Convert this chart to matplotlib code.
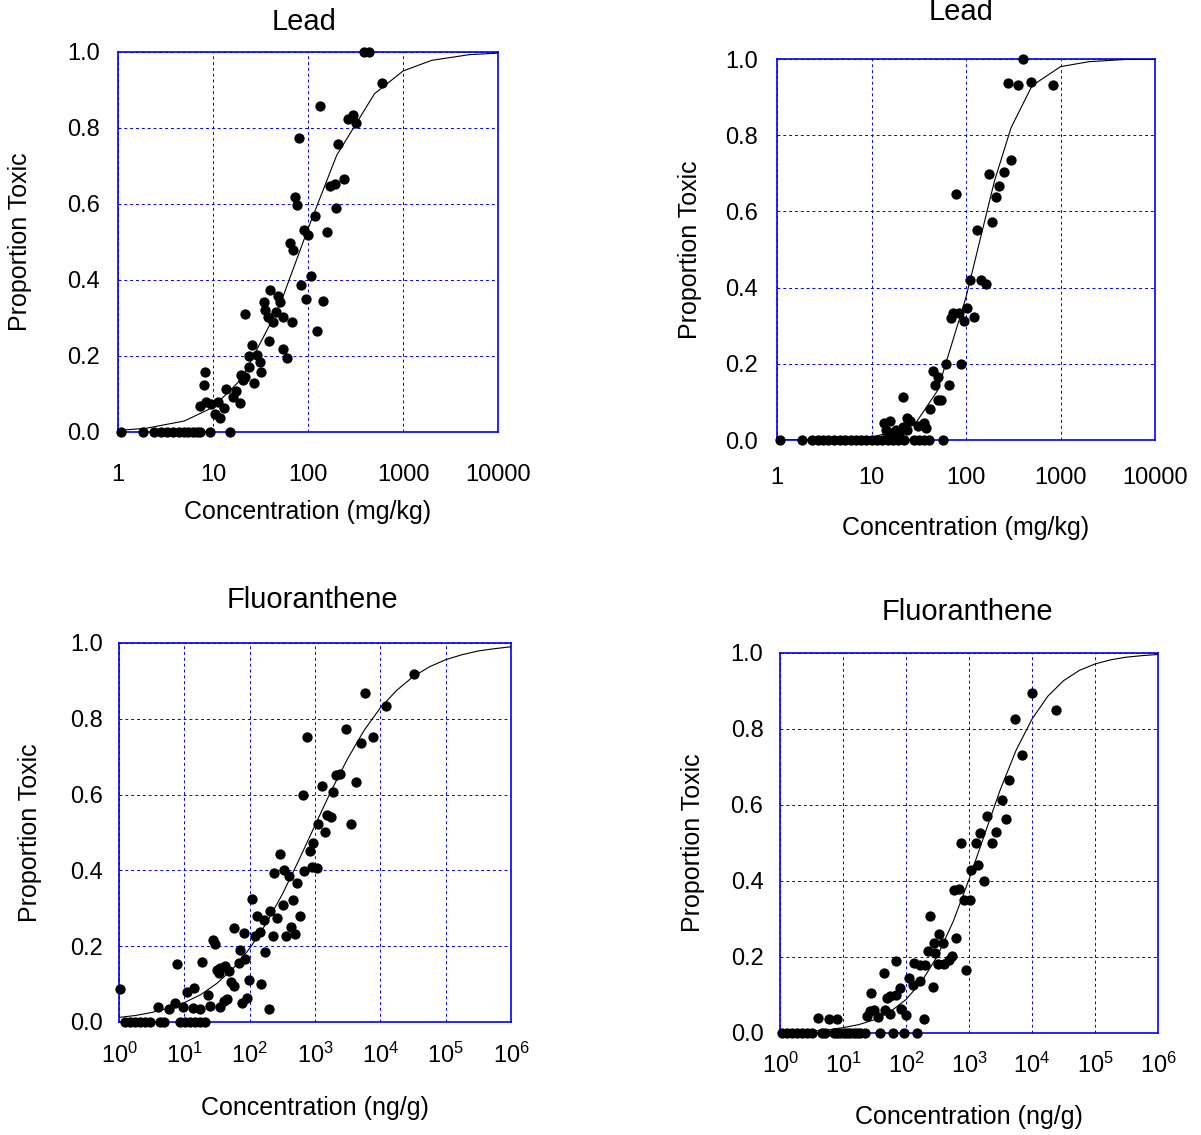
import matplotlib
matplotlib.use('Agg')
import matplotlib.pyplot as plt
from matplotlib.ticker import NullLocator

plt.rcParams['font.family'] = ['Liberation Sans', 'DejaVu Sans']
plt.rcParams['mathtext.default'] = 'regular'

# ---- Lead, left panel (mg/kg) ----
lead_a_conc = [1.08, 1.83, 2.4, 2.8, 3.3, 3.8, 4.4, 4.9, 5.5, 6.1, 6.7, 7.2, 9.2, 15,
               385, 439, 604, 135, 264, 294, 318, 80, 209, 239, 169, 191, 73, 77, 199,
               119, 90, 99, 158, 64, 69.5, 107, 85, 94, 145, 123, 40, 48, 51, 34, 35,
               38, 43, 46, 55, 67, 21.5, 39, 54, 60, 26, 24, 29, 31.5, 32, 24, 27,
               19.6, 21.5, 20.7, 13.8, 17.6, 16.3, 19, 8.2, 8.0, 7.2, 8.5, 9.6, 11.3,
               12.9, 10.4, 11.9]
lead_a_prop = [0, 0, 0, 0, 0, 0, 0, 0, 0, 0, 0, 0, 0, 0,
               1.0, 1.0, 0.919, 0.857, 0.824, 0.833, 0.813, 0.773, 0.759, 0.665, 0.648,
               0.652, 0.618, 0.597, 0.589, 0.569, 0.531, 0.518, 0.527, 0.498, 0.480,
               0.411, 0.386, 0.350, 0.346, 0.267, 0.373, 0.359, 0.342, 0.342, 0.320,
               0.302, 0.289, 0.315, 0.302, 0.289, 0.311, 0.240, 0.218, 0.196, 0.230,
               0.201, 0.203, 0.183, 0.159, 0.172, 0.128, 0.151, 0.145, 0.137, 0.113,
               0.107, 0.091, 0.076, 0.159, 0.124, 0.069, 0.078, 0.073, 0.078, 0.064,
               0.047, 0.036]
lead_a_fit_x = [1, 2, 5, 10, 20, 50, 100, 200, 500, 1000, 2000, 5000, 10000]
lead_a_fit_y = [0.004, 0.010, 0.029, 0.065, 0.140, 0.331, 0.535, 0.728, 0.890,
                0.950, 0.978, 0.993, 0.997]

# ---- Lead, right panel (mg/kg) ----
lead_b_conc = [1.08, 1.85, 2.34, 2.7, 3.1, 3.5, 4.0, 4.6, 5.2, 6.0, 6.8, 7.7, 8.8,
               10.0, 11.4, 13.0, 14.8, 16.8, 19.1, 21.8, 28, 32, 36, 41, 57,
               400, 277, 359, 489, 834, 301, 254, 175, 225, 207, 78, 188, 132, 109,
               143, 164, 102, 72, 84, 69, 95, 121, 62, 89, 45, 51, 47, 66, 21.5, 50,
               55, 42, 23.5, 25.7, 13.6, 15.8, 14.2, 18.1, 21.3, 24, 30.7, 35.5, 37.6,
               14.8, 16.6, 19.6]
lead_b_prop = [0] * 25 + [
               1.0, 0.937, 0.933, 0.940, 0.933, 0.736, 0.704, 0.699, 0.666, 0.639,
               0.646, 0.571, 0.552, 0.419, 0.420, 0.410, 0.346, 0.333, 0.333, 0.320,
               0.313, 0.322, 0.200, 0.200, 0.182, 0.166, 0.144, 0.144, 0.112, 0.105,
               0.105, 0.081, 0.057, 0.051, 0.044, 0.050, 0.026, 0.026, 0.033, 0.026,
               0.037, 0.044, 0.032, 0.018, 0.018, 0.018]
lead_b_fit_x = [1, 2, 5, 10, 20, 30, 50, 100, 200, 300, 500, 1000, 2000, 5000, 10000]
lead_b_fit_y = [0.0, 0.0005, 0.002, 0.008, 0.025, 0.048, 0.13, 0.375, 0.68, 0.82,
                0.93, 0.98, 0.993, 0.999, 1.0]

# ---- Fluoranthene, left panel (ng/g) ----
fluor_a_conc = [1.04, 1.24, 1.48, 1.76, 2.1, 2.5, 3.0, 4.3, 4.8, 8.6, 10.3, 12.3, 14.7,
                17.5, 20.9, 4.0, 5.9, 7.1, 9.5, 13.5, 17.5, 10.9, 14.2, 7.7, 18.6, 22.7,
                24.3, 27, 29.7, 31.6, 35.6, 42, 47.8, 33.4, 51.5, 58, 35.6, 40.7, 45.7,
                58, 72, 68, 86, 81, 76, 91, 97, 109, 129, 164, 122, 142, 174, 151, 195,
                207, 225, 263, 239, 295, 331, 397, 321, 365, 457, 431, 501, 532, 590,
                658, 759, 690, 904, 1054, 824, 937, 1105, 1400, 1500, 1730, 1273, 1880,
                2090, 2400, 3510, 4170, 2940, 4990, 7710, 5820, 12000, 32900]
fluor_a_prop = [0.086] + [0] * 14 + [
                0.039, 0.034, 0.049, 0.039, 0.037, 0.035, 0.078, 0.090, 0.154, 0.158,
                0.070, 0.043, 0.215, 0.207, 0.138, 0.143, 0.147, 0.134, 0.128, 0.105,
                0.094, 0.040, 0.055, 0.061, 0.249, 0.190, 0.156, 0.165, 0.234, 0.050,
                0.063, 0.110, 0.324, 0.280, 0.268, 0.227, 0.237, 0.185, 0.099, 0.034,
                0.293, 0.227, 0.275, 0.392, 0.444, 0.400, 0.385, 0.309, 0.228, 0.321,
                0.251, 0.231, 0.366, 0.280, 0.600, 0.751, 0.399, 0.409, 0.407, 0.450,
                0.472, 0.522, 0.500, 0.546, 0.541, 0.623, 0.608, 0.652, 0.654, 0.522,
                0.632, 0.773, 0.736, 0.751, 0.868, 0.835, 0.919]
fluor_a_fit_logx = [0, 0.25, 0.5, 0.75, 1.0, 1.25, 1.5, 1.75, 2.0, 2.25, 2.5, 2.75, 3.0,
                    3.25, 3.5, 3.75, 4.0, 4.25, 4.5, 4.75, 5.0, 5.25, 5.5, 5.75, 6.0]
fluor_a_fit_y = [0.012, 0.017, 0.025, 0.036, 0.051, 0.072, 0.102, 0.142, 0.194, 0.259,
                 0.337, 0.426, 0.519, 0.611, 0.695, 0.769, 0.829, 0.875, 0.911, 0.937,
                 0.956, 0.969, 0.979, 0.985, 0.990]

# ---- Fluoranthene, right panel (ng/g) ----
fluor_b_conc = [1.08, 1.29, 1.55, 1.86, 2.23, 2.68, 3.22, 4.6, 5.2, 7.1, 8.0, 9.1, 10.2,
                11.6, 13.1, 14.8, 16.7, 18.8, 22.6, 39, 63, 92, 149,
                4.0, 5.9, 8.0, 24, 27, 31, 35.5, 47, 56, 83, 101, 28, 44, 49, 56, 70, 81,
                70, 112, 129, 165, 135, 169, 203, 191, 265, 223, 292, 275, 382, 338, 243,
                318, 396, 475, 537, 622, 907, 571, 685, 823, 1024, 746, 1290, 1090, 1370,
                1710, 1510, 1930, 2290, 2650, 3920, 3380, 4370, 6940, 5430, 10000, 24300]
fluor_b_prop = [0] * 23 + [
                0.039, 0.037, 0.037, 0.044, 0.057, 0.060, 0.042, 0.060, 0.051, 0.063,
                0.048, 0.105, 0.158, 0.092, 0.098, 0.101, 0.118, 0.190, 0.145, 0.127,
                0.136, 0.184, 0.180, 0.180, 0.037, 0.120, 0.215, 0.211, 0.237, 0.237,
                0.261, 0.309, 0.182, 0.182, 0.193, 0.202, 0.250, 0.167, 0.375, 0.379,
                0.351, 0.351, 0.500, 0.500, 0.430, 0.443, 0.399, 0.526, 0.572, 0.500,
                0.529, 0.563, 0.614, 0.667, 0.732, 0.825, 0.895, 0.849]
fluor_b_fit_logx = fluor_a_fit_logx
fluor_b_fit_y = [0.002, 0.003, 0.005, 0.008, 0.014, 0.022, 0.035, 0.056, 0.088, 0.136,
                 0.203, 0.294, 0.404, 0.524, 0.642, 0.745, 0.826, 0.886, 0.927, 0.954,
                 0.971, 0.982, 0.989, 0.993, 0.996]

lead_ticks = [1, 10, 100, 1000, 10000]
lead_labels = ['1', '10', '100', '1000', '10000']
fluor_ticks = [1, 10, 100, 1e3, 1e4, 1e5, 1e6]
fluor_labels = [r'$10^{%d}$' % i for i in range(7)]
y_ticks = [0, 0.2, 0.4, 0.6, 0.8, 1.0]
y_labels = ['0.0', '0.2', '0.4', '0.6', '0.8', '1.0']

BLUE = '#0000ff'

fig = plt.figure(figsize=(12.01, 11.35), dpi=100)


def panel(rect, conc, prop, fx, fy, ticks, tlabels, title, xlabel,
          title_pos, xlab_y, ylab_x, xpad, ypad):
    ax = fig.add_axes(rect)
    ax.set_xscale('log')
    ax.set_xlim(ticks[0], ticks[-1])
    ax.set_ylim(0, 1)
    ax.plot(fx, fy, color='black', lw=0.8, zorder=3)
    ax.scatter(conc, prop, s=55, c='black', linewidths=0, clip_on=False, zorder=5)

    ax.set_xticks(ticks)
    ax.set_xticklabels(tlabels)
    ax.xaxis.set_minor_locator(NullLocator())
    ax.set_yticks(y_ticks)
    ax.set_yticklabels(y_labels)
    ax.tick_params(axis='both', length=0, labelsize=17)
    ax.tick_params(axis='x', pad=xpad)
    ax.tick_params(axis='y', pad=ypad)

    ax.grid(True, color=BLUE, linestyle=(0, (3, 3)), linewidth=0.7)
    ax.set_axisbelow(True)
    for sp in ax.spines.values():
        sp.set_color(BLUE)
        sp.set_linewidth(1.2)

    ax.text(title_pos[0], title_pos[1], title, transform=ax.transAxes,
            ha='center', va='center', fontsize=21)
    ax.set_xlabel(xlabel, fontsize=18)
    ax.xaxis.set_label_coords(0.5, xlab_y)
    ax.xaxis.label.set_va('center')
    ax.set_ylabel('Proportion Toxic', fontsize=18)
    ax.yaxis.set_label_coords(ylab_x, 0.5)
    ax.yaxis.label.set_va('center')
    return ax


panel([0.0983, 0.6194, 0.3164, 0.3348], lead_a_conc, lead_a_prop,
      lead_a_fit_x, lead_a_fit_y, lead_ticks, lead_labels,
      'Lead', 'Concentration (mg/kg)', (0.489, 1.079), -0.21, -0.258, 23, 13)

panel([0.6470, 0.6123, 0.3147, 0.3357], lead_b_conc, lead_b_prop,
      lead_b_fit_x, lead_b_fit_y, lead_ticks, lead_labels,
      'Lead', 'Concentration (mg/kg)', (0.487, 1.123), -0.231, -0.23, 19.5, 13.5)

panel([0.0991, 0.0996, 0.3264, 0.3339], fluor_a_conc, fluor_a_prop,
      [10 ** v for v in fluor_a_fit_logx], fluor_a_fit_y, fluor_ticks, fluor_labels,
      'Fluoranthene', 'Concentration (ng/g)', (0.494, 1.113), -0.227, -0.227, 15, 11.5)

panel([0.6495, 0.0899, 0.3147, 0.3348], fluor_b_conc, fluor_b_prop,
      [10 ** v for v in fluor_b_fit_logx], fluor_b_fit_y, fluor_ticks, fluor_labels,
      'Fluoranthene', 'Concentration (ng/g)', (0.495, 1.108), -0.221, -0.23, 14, 12)

fig.savefig('out.png', dpi=100)
